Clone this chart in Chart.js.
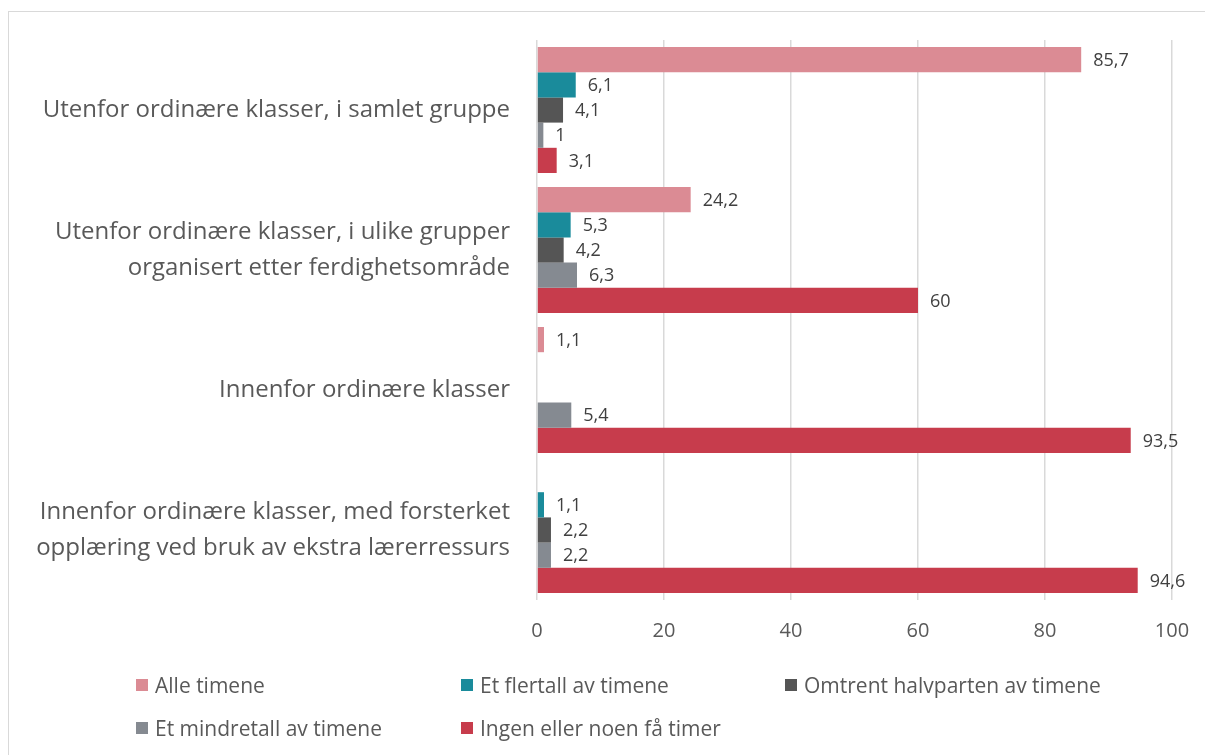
<!DOCTYPE html>
<html>
<head>
<meta charset="utf-8">
<script src="https://cdn.jsdelivr.net/npm/chart.js@4"></script>
<style>
  html, body { margin: 0; padding: 0; background: #fff; }
  body { width: 1205px; height: 755px; position: relative; overflow: hidden; font-family: "Open Sans", sans-serif; }
  .frame { position: absolute; left: 8px; top: 11px; width: 1205px; height: 760px; border: 1px solid #d9d9d9; box-sizing: border-box; }
  #wrap { position: absolute; left: 0; top: 0; width: 1205px; height: 755px; }
  .legend-item { position: absolute; display: flex; align-items: center; font-size: 21px; color: #595959; white-space: nowrap; }
  .legend-item span.box { display: inline-block; width: 12px; height: 12px; margin-right: 7px; }
</style>
</head>
<body>
<div class="frame"></div>
<div id="wrap"><canvas id="chart" width="1205" height="755"></canvas></div>
<div id="legend"></div>
<script>
// Kategorier (y-aksen)
const categories = [
  "Utenfor ordinære klasser, i samlet gruppe",
  ["Utenfor ordinære klasser, i ulike grupper", "organisert etter ferdighetsområde"],
  "Innenfor ordinære klasser",
  ["Innenfor ordinære klasser, med forsterket", "opplæring ved bruk av ekstra lærerressurs"]
];

// Serier
const seriesNames = ["Alle timene", "Et flertall av timene", "Omtrent halvparten av timene", "Et mindretall av timene", "Ingen eller noen få timer"];
const alleTimene = [85.7, 24.2, 1.1, null];
const etFlertall = [6.1, 5.3, null, 1.1];
const omtrentHalvparten = [4.1, 4.2, null, 2.2];
const etMindretall = [1, 6.3, 5.4, 2.2];
const ingenEllerFa = [3.1, 60, 93.5, 94.6];

const xTicks = [0, 20, 40, 60, 80, 100];

const colors = ["#db8b94", "#1a8b9b", "#555555", "#858a91", "#c73c4c"];
const allSeries = [alleTimene, etFlertall, omtrentHalvparten, etMindretall, ingenEllerFa];

// Verdier ved enden av stolpene
const valueLabels = {
  id: "valueLabels",
  afterDatasetsDraw(chart) {
    const ctx = chart.ctx;
    ctx.save();
    ctx.font = "18px 'Open Sans', sans-serif";
    ctx.fillStyle = "#404040";
    ctx.textAlign = "left";
    ctx.textBaseline = "middle";
    chart.data.datasets.forEach((ds, i) => {
      chart.getDatasetMeta(i).data.forEach((bar, j) => {
        const v = ds.data[j];
        if (v === null) return;
        ctx.fillText(String(v).replace(".", ","), bar.x + 12, bar.y + 1);
      });
    });
    ctx.restore();
  }
};

const chart = new Chart(document.getElementById("chart"), {
  type: "bar",
  data: {
    labels: categories,
    datasets: allSeries.map((d, i) => ({
      label: seriesNames[i],
      data: d,
      backgroundColor: colors[i],
      categoryPercentage: 0.9,
      barPercentage: 1
    }))
  },
  options: {
    indexAxis: "y",
    responsive: false,
    animation: false,
    layout: { padding: { left: 0, right: 33, top: 40, bottom: 105 } },
    plugins: {
      legend: { display: false },
      tooltip: { enabled: false }
    },
    scales: {
      x: {
        min: 0,
        max: 100,
        afterBuildTicks: (axis) => { axis.ticks = xTicks.map(v => ({ value: v })); },
        afterFit: (axis) => { axis.height = 50; axis.paddingLeft = 0; axis.paddingRight = 0; },
        grid: { color: "#d9d9d9", lineWidth: 1.5, drawTicks: false },
        border: { display: false },
        ticks: { padding: 19, color: "#595959", font: { family: "Open Sans", size: 20 } }
      },
      y: {
        afterFit: (axis) => { axis.width = 537; axis.paddingTop = 0; axis.paddingBottom = 0; },
        grid: { display: false, drawTicks: false },
        border: { display: false },
        ticks: { padding: 27, color: "#595959", font: { family: "Open Sans", size: 24, lineHeight: 1.5 } }
      }
    }
  },
  plugins: [valueLabels]
});

// Forklaring i to rader
const legendPos = [[136, 686], [461, 686], [785, 686], [136, 729], [461, 729]];
const legendEl = document.getElementById("legend");
chart.data.datasets.forEach((ds, i) => {
  const item = document.createElement("div");
  item.className = "legend-item";
  item.style.left = legendPos[i][0] + "px";
  item.style.top = (legendPos[i][1] - 15) + "px";
  item.innerHTML = '<span class="box" style="background:' + ds.backgroundColor + '"></span>' + ds.label;
  legendEl.appendChild(item);
});
</script>
</body>
</html>
